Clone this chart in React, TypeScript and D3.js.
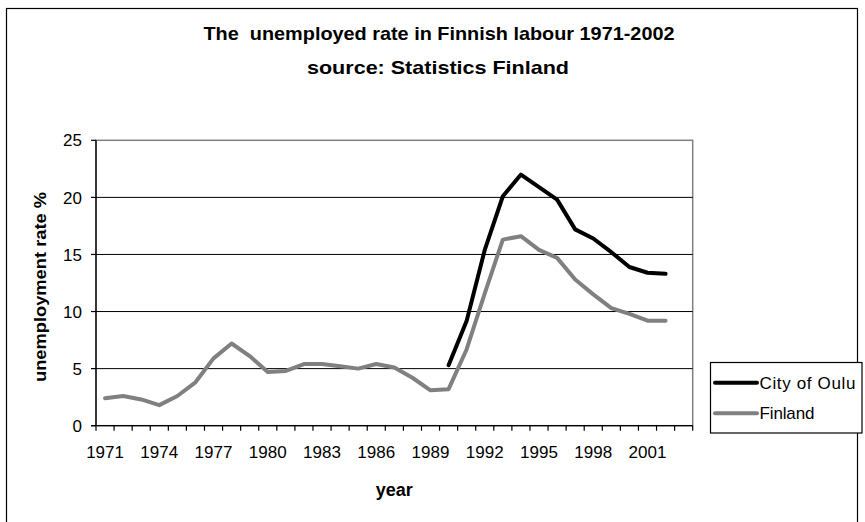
import React from "react";
import * as d3 from "d3";

const years: number[] = [
  1971, 1972, 1973, 1974, 1975, 1976, 1977, 1978, 1979, 1980, 1981, 1982, 1983, 1984, 1985, 1986,
  1987, 1988, 1989, 1990, 1991, 1992, 1993, 1994, 1995, 1996, 1997, 1998, 1999, 2000, 2001, 2002, 2003,
];
const tickYears: number[] = [1971, 1974, 1977, 1980, 1983, 1986, 1989, 1992, 1995, 1998, 2001];
const yTicks: number[] = [0, 5, 10, 15, 20, 25];

const finlandYears: number[] = [
  1971, 1972, 1973, 1974, 1975, 1976, 1977, 1978, 1979, 1980, 1981, 1982, 1983, 1984, 1985, 1986,
  1987, 1988, 1989, 1990, 1991, 1992, 1993, 1994, 1995, 1996, 1997, 1998, 1999, 2000, 2001, 2002,
];
const finlandValues: number[] = [
  2.4, 2.6, 2.3, 1.8, 2.6, 3.8, 5.9, 7.2, 6.1, 4.7, 4.8, 5.4, 5.4, 5.2, 5.0, 5.4,
  5.1, 4.2, 3.1, 3.2, 6.7, 11.6, 16.3, 16.6, 15.4, 14.7, 12.8, 11.5, 10.3, 9.8, 9.2, 9.2,
];
const ouluYears: number[] = [1990, 1991, 1992, 1993, 1994, 1995, 1996, 1997, 1998, 1999, 2000, 2001, 2002];
const ouluValues: number[] = [5.3, 9.2, 15.4, 20.1, 22.0, 20.9, 19.8, 17.2, 16.4, 15.2, 13.9, 13.4, 13.3];

const seriesNames = ["City of Oulu", "Finland"];
const seriesColors = ["#000000", "#808080"];

const FONT = "'Liberation Sans', Arial, sans-serif";

export default function App() {
  const left = 96;
  const right = 692.7;
  const top = 140.3;
  const bottom = 425.7;

  const x = d3.scaleBand<number>().domain(years).range([left, right]).padding(0);
  const y = d3.scaleLinear().domain([0, 25]).range([bottom, top]);
  const cx = (yr: number) => (x(yr) as number) + x.bandwidth() / 2;

  const line = d3
    .line<[number, number]>()
    .x((d) => cx(d[0]))
    .y((d) => y(d[1]));

  const finlandPath = line(finlandYears.map((yr, i) => [yr, finlandValues[i]] as [number, number])) || "";
  const ouluPath = line(ouluYears.map((yr, i) => [yr, ouluValues[i]] as [number, number])) || "";

  const boundaries = years.map((yr) => x(yr) as number).concat([right]);

  return (
    <svg
      width={865}
      height={522}
      style={{ position: "absolute", left: 0, top: 0, background: "#fff" }}
      fontFamily={FONT}
    >
      <rect x={0} y={0} width={865} height={522} fill="#fff" />
      {/* outer chart border */}
      <rect x={6.5} y={8.5} width={851} height={600} fill="none" stroke="#000" strokeWidth={1.2} />

      {/* title */}
      <text
        x={439}
        y={40}
        textAnchor="middle"
        fontSize={18.5}
        fontWeight="bold"
        textLength={471}
        lengthAdjust="spacingAndGlyphs"
        style={{ whiteSpace: "pre" }}
      >
        {"The  unemployed rate in Finnish labour 1971-2002"}
      </text>
      <text x={438} y={74} textAnchor="middle" fontSize={18.5} fontWeight="bold" textLength={262} lengthAdjust="spacingAndGlyphs">
        source: Statistics Finland
      </text>

      {/* plot area border */}
      <rect x={left} y={top} width={right - left} height={bottom - top} fill="none" stroke="#808080" strokeWidth={1.5} />

      {/* gridlines */}
      {yTicks
        .filter((t) => t > 0 && t < 25)
        .map((t) => (
          <line key={"g" + t} x1={left} x2={right} y1={y(t)} y2={y(t)} stroke="#000" strokeWidth={1} />
        ))}

      {/* axes */}
      <line x1={left} x2={left} y1={top} y2={bottom} stroke="#000" strokeWidth={1.3} />
      <line x1={left - 5} x2={right} y1={bottom} y2={bottom} stroke="#000" strokeWidth={1.3} />
      {yTicks.map((t) => (
        <line key={"yt" + t} x1={left - 5} x2={left} y1={y(t)} y2={y(t)} stroke="#000" strokeWidth={1.2} />
      ))}
      {boundaries.map((b, i) => (
        <line key={"xt" + i} x1={b} x2={b} y1={bottom} y2={bottom + 5} stroke="#000" strokeWidth={1.2} />
      ))}

      {/* y tick labels */}
      {yTicks.map((t) => (
        <text key={"yl" + t} x={82} y={y(t)} dy="0.36em" textAnchor="end" fontSize={17}>
          {t}
        </text>
      ))}
      {/* x tick labels */}
      {tickYears.map((yr) => (
        <text key={"xl" + yr} x={cx(yr)} y={458} textAnchor="middle" fontSize={17}>
          {yr}
        </text>
      ))}

      {/* axis titles */}
      <text
        transform={`translate(46,287) rotate(-90)`}
        textAnchor="middle"
        fontSize={17}
        fontWeight="bold"
        textLength={190}
        lengthAdjust="spacingAndGlyphs"
      >
        unemployment rate %
      </text>
      <text x={(left + right) / 2} y={496} textAnchor="middle" fontSize={18} fontWeight="bold">
        year
      </text>

      {/* series */}
      <path d={finlandPath} fill="none" stroke={seriesColors[1]} strokeWidth={4} strokeLinejoin="round" strokeLinecap="round" />
      <path d={ouluPath} fill="none" stroke={seriesColors[0]} strokeWidth={4} strokeLinejoin="round" strokeLinecap="round" />

      {/* legend */}
      <rect x={710.5} y={362.5} width={151.5} height={70.5} fill="#fff" stroke="#000" strokeWidth={1.2} />
      {seriesNames.map((name, i) => {
        const ly = i === 0 ? 382.7 : 413.3;
        return (
          <g key={name}>
            <line x1={715} x2={757} y1={ly} y2={ly} stroke={seriesColors[i]} strokeWidth={4} strokeLinecap="round" />
            <text x={759.5} y={ly} dy="0.36em" fontSize={17} textLength={i === 0 ? 96 : 55} lengthAdjust="spacing">
              {name}
            </text>
          </g>
        );
      })}
    </svg>
  );
}
